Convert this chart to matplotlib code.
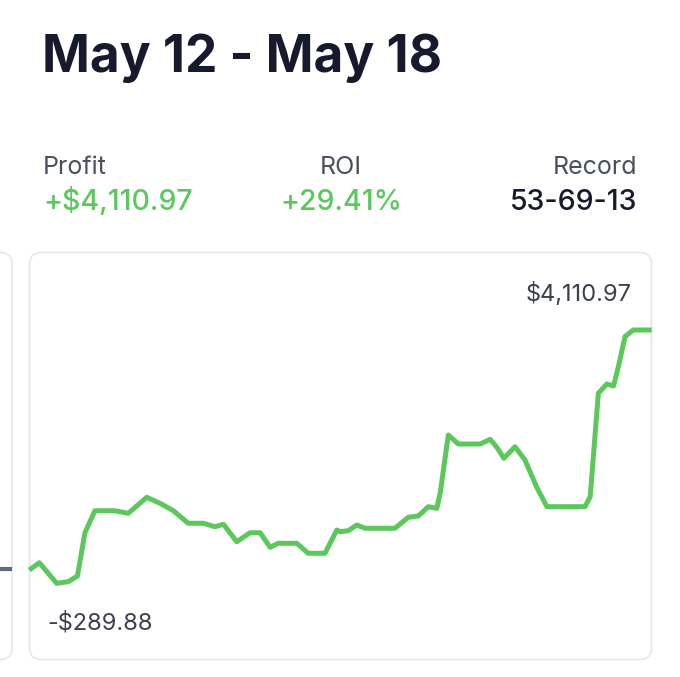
import matplotlib
matplotlib.use("Agg")
import matplotlib.pyplot as plt
from matplotlib.patches import FancyBboxPatch

# weekly profit curve (hours since May 12, running profit in $)
hours = [0, 2.7, 7.4, 10.5, 13.0, 15.0, 17.7, 23.1, 26.7, 31.7, 35.3, 38.9,
         42.9, 47.0, 50.1, 52.4, 56.0, 59.6, 62.3, 65.0, 67.2, 72.2, 75.3,
         79.8, 83.0, 83.9, 86.1, 88.4, 90.6, 98.7, 102.3, 105.0, 107.7, 110.0,
         110.9, 113.1, 115.8, 121.7, 124.4, 126.2, 128.1, 131.1, 133.8, 136.9,
         139.7, 150.0, 151.4, 153.6, 155.9, 157.7, 159.0, 160.8, 163.0, 168]
profit = [-59, 68, -289.88, -262, -163, 584, 971, 971, 926, 1204, 1100, 971,
          753, 753, 693, 735, 433, 589, 589, 336, 405, 405, 231,
          231, 636, 607, 624, 723, 666, 666, 857, 879, 1041, 1013,
          1274, 2287, 2130, 2130, 2212, 2073, 1882, 2083, 1852, 1388,
          1041, 1041, 1215, 3011, 3173, 3138, 3473, 3995, 4110.97, 4110.97]

title = "May 12 - May 18"
stat_labels = ["Profit", "ROI", "Record"]
stat_values = ["+$4,110.97", "+29.41%", "53-69-13"]

GREEN = "#5cc85c"
DARK = "#171a2c"
GREY = "#4b5060"
W, H = 680, 677

plt.rcParams["font.family"] = ["Inter", "DejaVu Sans"]

fig = plt.figure(figsize=(W / 100, H / 100), dpi=100)
fig.patch.set_facecolor("white")

# overlay in pixel coordinates for cards and text
ov = fig.add_axes([0, 0, 1, 1])
ov.set_xlim(0, W)
ov.set_ylim(H, 0)
ov.axis("off")

ov.add_patch(FancyBboxPatch((29.5, 252.5), 622, 407,
                            boxstyle="round,pad=0,rounding_size=12",
                            fc="white", ec="#e4e6eb", lw=1.2))
ov.add_patch(FancyBboxPatch((-40, 252.5), 52, 407,
                            boxstyle="round,pad=0,rounding_size=12",
                            fc="white", ec="#e4e6eb", lw=1.2))
ov.plot([0, 12], [569, 569], color="#5d6b80", lw=3, solid_capstyle="butt")

ov.text(42, 72, title, fontsize=37, fontweight="bold", color=DARK,
        ha="left", va="baseline")

cols = [(43, "left"), (341, "center"), (637, "right")]
for (x, ha), lab, val in zip(cols, stat_labels, stat_values):
    ov.text(x, 174, lab, fontsize=18, color=GREY, ha=ha, va="baseline")
    c = DARK if lab == "Record" else GREEN
    ov.text(x, 210, val, fontsize=20.5, fontweight="medium", color=c,
            ha=ha, va="baseline")

# line chart axes positioned over the card
top_px, bot_px = 330, 583.3
ax = fig.add_axes([29.3 / W, (H - bot_px) / H, 622.4 / W, (bot_px - top_px) / H])
ax.set_xlim(hours[0], hours[-1])
ax.set_ylim(min(profit), max(profit))
ax.axis("off")
ax.patch.set_alpha(0)
ax.plot(hours, profit, color=GREEN, lw=3.6, solid_joinstyle="round",
        solid_capstyle="butt", clip_on=False)

ov.text(632, 301, f"${max(profit):,.2f}", fontsize=17, color="#3b404c",
        ha="right", va="baseline")
ov.text(47, 630, f"-${abs(min(profit)):,.2f}", fontsize=17, color="#3b404c",
        ha="left", va="baseline")

fig.savefig("out.png", dpi=100, facecolor="white")
